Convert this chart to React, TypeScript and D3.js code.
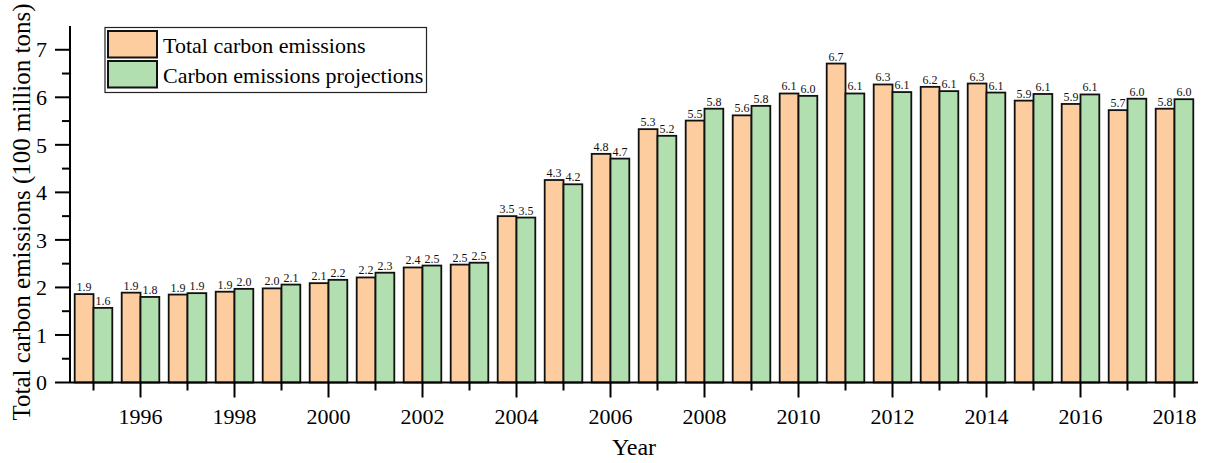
import React, { useEffect, useRef } from 'react';
import * as d3 from 'd3';

const years = [
  1995, 1996, 1997, 1998, 1999, 2000, 2001, 2002, 2003, 2004, 2005, 2006,
  2007, 2008, 2009, 2010, 2011, 2012, 2013, 2014, 2015, 2016, 2017, 2018,
];
const totalEmissions = [
  1.86, 1.89, 1.85, 1.91, 1.98, 2.09, 2.21, 2.42, 2.48, 3.5, 4.26, 4.81,
  5.33, 5.51, 5.62, 6.08, 6.71, 6.27, 6.22, 6.29, 5.93, 5.86, 5.73, 5.76,
];
const projections = [
  1.57, 1.8, 1.88, 1.97, 2.06, 2.16, 2.31, 2.46, 2.52, 3.47, 4.17, 4.71,
  5.19, 5.76, 5.82, 6.03, 6.08, 6.11, 6.13, 6.1, 6.07, 6.06, 5.97, 5.96,
];
const seriesNames = ['Total carbon emissions', 'Carbon emissions projections'];
const seriesColors = ['#fdcd9f', '#b2dfaf'];
const yMajorTicks = [0, 1, 2, 3, 4, 5, 6, 7];
const yMinorTicks = [0.5, 1.5, 2.5, 3.5, 4.5, 5.5, 6.5];

const FONT = '"Liberation Serif", "Times New Roman", serif';

const App = () => {
  const ref = useRef<SVGSVGElement>(null);

  useEffect(() => {
    const svg = d3.select(ref.current);
    svg.selectAll('*').remove();

    const left = 70;
    const right = 1198;
    const top = 26;
    const bottom = 382.5;

    // scales
    const x = d3.scaleBand<number>().domain(years).range([left, right]).padding(0);
    const bw = x.bandwidth();
    const xs = d3
      .scaleBand<number>()
      .domain([0, 1])
      .range([0.1 * bw, 0.9 * bw])
      .padding(0);
    const y = d3.scaleLinear().domain([0, 7.5]).range([bottom, top]);

    const series = [totalEmissions, projections];

    // bars
    series.forEach((vals, si) => {
      const g = svg.append('g');
      g.selectAll('rect')
        .data(vals)
        .enter()
        .append('rect')
        .attr('x', (d, i) => (x(years[i]) as number) + (xs(si) as number))
        .attr('y', (d) => y(d))
        .attr('width', xs.bandwidth())
        .attr('height', (d) => y(0) - y(d))
        .attr('fill', seriesColors[si])
        .attr('stroke', '#111')
        .attr('stroke-width', 1.8);

      g.selectAll('text')
        .data(vals)
        .enter()
        .append('text')
        .attr('x', (d, i) => (x(years[i]) as number) + (xs(si) as number) + xs.bandwidth() / 2)
        .attr('y', (d) => y(d) - 3)
        .attr('text-anchor', 'middle')
        .attr('font-family', FONT)
        .attr('font-size', 12)
        .attr('fill', '#111')
        .text((d) => d.toFixed(1));
    });

    // x axis
    const xAxis = svg.append('g');
    xAxis
      .append('line')
      .attr('x1', left)
      .attr('x2', right)
      .attr('y1', bottom)
      .attr('y2', bottom)
      .attr('stroke', '#000')
      .attr('stroke-width', 2);
    xAxis
      .selectAll('line.tick')
      .data(years)
      .enter()
      .append('line')
      .attr('class', 'tick')
      .attr('x1', (d) => (x(d) as number) + bw / 2)
      .attr('x2', (d) => (x(d) as number) + bw / 2)
      .attr('y1', bottom)
      .attr('y2', (d) => bottom + (d % 2 === 0 ? 15 : 8))
      .attr('stroke', '#000')
      .attr('stroke-width', 2);
    xAxis
      .selectAll('text')
      .data(years.filter((d) => d % 2 === 0))
      .enter()
      .append('text')
      .attr('x', (d) => (x(d) as number) + bw / 2)
      .attr('y', 424)
      .attr('text-anchor', 'middle')
      .attr('font-family', FONT)
      .attr('font-size', 22)
      .text((d) => d);

    // y axis
    const yAxis = svg.append('g');
    yAxis
      .append('line')
      .attr('x1', left)
      .attr('x2', left)
      .attr('y1', top)
      .attr('y2', bottom)
      .attr('stroke', '#000')
      .attr('stroke-width', 2);
    yAxis
      .selectAll('line.major')
      .data(yMajorTicks)
      .enter()
      .append('line')
      .attr('class', 'major')
      .attr('x1', left - 15)
      .attr('x2', left)
      .attr('y1', (d) => y(d))
      .attr('y2', (d) => y(d))
      .attr('stroke', '#000')
      .attr('stroke-width', 2);
    yAxis
      .selectAll('line.minor')
      .data(yMinorTicks)
      .enter()
      .append('line')
      .attr('class', 'minor')
      .attr('x1', left - 8)
      .attr('x2', left)
      .attr('y1', (d) => y(d))
      .attr('y2', (d) => y(d))
      .attr('stroke', '#000')
      .attr('stroke-width', 2);
    yAxis
      .selectAll('text')
      .data(yMajorTicks)
      .enter()
      .append('text')
      .attr('x', left - 23)
      .attr('y', (d) => y(d))
      .attr('dy', '0.35em')
      .attr('text-anchor', 'end')
      .attr('font-family', FONT)
      .attr('font-size', 22)
      .text((d) => d);

    // axis titles
    svg
      .append('text')
      .attr('transform', 'translate(30,212) rotate(-90)')
      .attr('text-anchor', 'middle')
      .attr('font-family', FONT)
      .attr('font-size', 25)
      .text('Total carbon emissions (100 million tons)');
    svg
      .append('text')
      .attr('x', 634)
      .attr('y', 455)
      .attr('text-anchor', 'middle')
      .attr('font-family', FONT)
      .attr('font-size', 24)
      .text('Year');

    // legend
    const legend = svg.append('g');
    legend
      .append('rect')
      .attr('x', 105)
      .attr('y', 27.5)
      .attr('width', 321.5)
      .attr('height', 65)
      .attr('fill', '#fff')
      .attr('stroke', '#222')
      .attr('stroke-width', 1.2);
    seriesNames.forEach((name, i) => {
      legend
        .append('rect')
        .attr('x', 108)
        .attr('y', 31 + i * 30)
        .attr('width', 49)
        .attr('height', 26.5)
        .attr('fill', seriesColors[i])
        .attr('stroke', '#111')
        .attr('stroke-width', 2);
      legend
        .append('text')
        .attr('x', 163)
        .attr('y', 53 + i * 29.5)
        .attr('font-family', FONT)
        .attr('font-size', 22)
        .text(name);
    });
  }, []);

  return (
    <svg
      ref={ref}
      width={1210}
      height={463}
      style={{ position: 'absolute', left: 0, top: 0, background: '#fff' }}
    />
  );
};

export default App;
